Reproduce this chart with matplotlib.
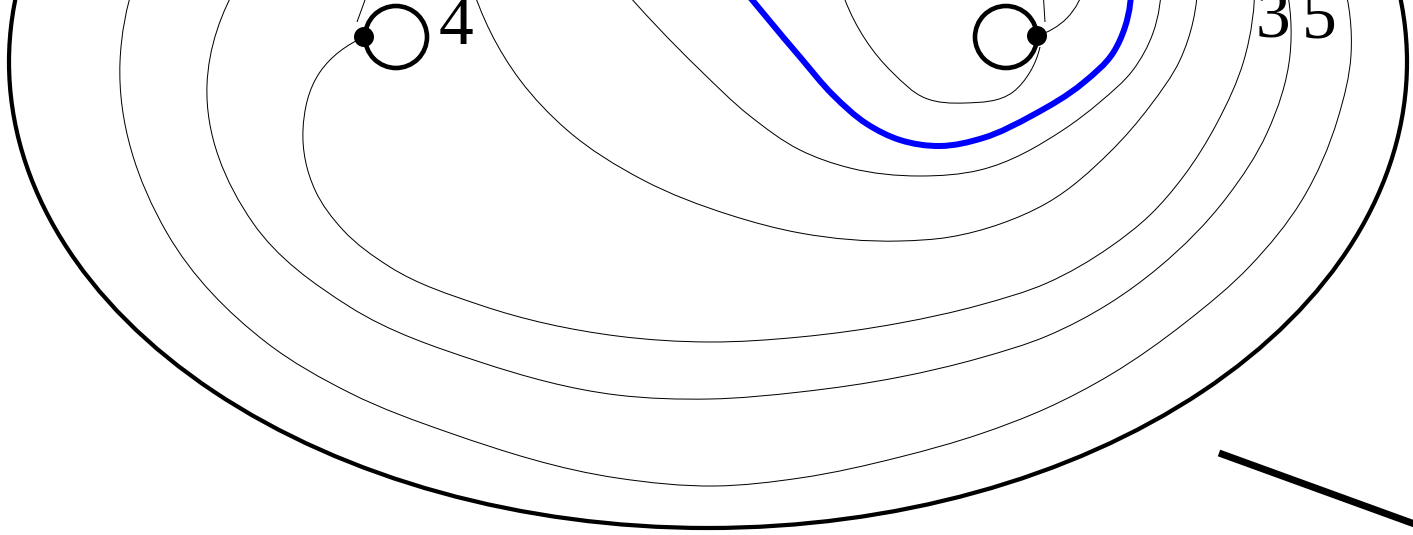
import matplotlib
matplotlib.use('Agg')
import matplotlib.pyplot as plt
import numpy as np
from matplotlib.path import Path
from matplotlib.patches import PathPatch, Circle, Ellipse

# everything, in pixels, y going down
outer_center = (708, 62)
outer_size = (1398, 932)
line_a = [(135, -20), (120, 62), (167, 233), (267, 343), (350, 393), (450, 433),
          (617, 478), (715, 486), (800, 478), (900, 457), (980, 434), (1047, 408), (1110, 375), (1186, 322),
          (1250, 266), (1302, 200), (1338, 118), (1351, 55), (1343, -20)]
line_b = [(240, -20), (207, 85), (253, 223), (350, 307), (480, 362), (617, 395),
          (710, 399), (800, 392), (900, 377), (980, 358), (1047, 336), (1110, 303), (1158, 268), (1227, 197),
          (1267, 133), (1290, 55), (1285, -20)]
line_c = [(364, 37), (320, 72), (303, 130), (315, 190), (343, 230), (390, 267), (480, 305), (617, 336),
          (710, 342), (800, 337), (900, 323), (980, 305), (1047, 283), (1110, 247), (1150, 215), (1183, 177),
          (1217, 123), (1244, 60), (1255, -20)]
line_d = [(470, -20), (520, 80), (567, 130), (643, 180), (730, 215), (800, 233), (900, 241), (950, 237),
          (1000, 224), (1047, 203), (1110, 152), (1150, 106), (1180, 60), (1198, -20)]
line_e = [(615, -20), (700, 70), (750, 116), (800, 150), (850, 168), (920, 176), (980, 170), (1063, 130),
          (1100, 102), (1133, 70), (1153, 33), (1161, -20)]
line_f = [(845, 0), (893, 73), (925, 98), (965, 103), (1013, 92), (1030, 72), (1040, 47)]
line_g = [(1037, 36), (1067, 18), (1085, -15)]
tick_left = [(365, 0), (357, 22)]
tick_right = [(1043, -10), (1045, 22)]
blue_line = [(736, -20), (800, 57), (833, 95), (867, 124), (900, 140), (940, 146), (983, 138), (1033, 115),
             (1083, 83), (1113, 53), (1125, 27), (1131, -20)]
bar = [(1219, 453), (1420, 526)]

loops = [(396, 37), (1006, 37)]
dots = [(364, 37), (1037, 36)]
labels = [('4', 439, 44), ('3', 1256, 37), ('5', 1302, 37)]


def smooth_path(pts):
    pts = np.array(pts, dtype=float)
    n = len(pts)
    seg = pts[1:] - pts[:-1]
    ln = np.linalg.norm(seg, axis=1)
    u = seg / ln[:, None]
    tang = np.zeros_like(pts)
    tang[0] = 2 * u[0] - (ln[1] * u[0] + ln[0] * u[1]) / (ln[0] + ln[1])
    tang[-1] = 2 * u[-1] - (ln[-1] * u[-2] + ln[-2] * u[-1]) / (ln[-1] + ln[-2])
    for i in range(1, n - 1):
        tang[i] = ln[i] * u[i - 1] + ln[i - 1] * u[i]
    tang = tang / np.linalg.norm(tang, axis=1, keepdims=True)
    verts = [pts[0]]
    codes = [Path.MOVETO]
    for i in range(n - 1):
        ang = np.arccos(np.clip(np.dot(tang[i], tang[i + 1]), -1, 1))
        k = 1 / 3 if ang < 1e-3 else (4 / 3) * np.tan(ang / 4) / (2 * np.sin(ang / 2))
        d = ln[i] * k
        verts += [pts[i] + tang[i] * d, pts[i + 1] - tang[i + 1] * d, pts[i + 1]]
        codes += [Path.CURVE4] * 3
    return Path(verts, codes)


def px(w):
    return w * 72 / 100


fig = plt.figure(figsize=(14.13, 5.35), dpi=100)
ax = fig.add_axes([0, 0, 1, 1])
ax.set_xlim(0, 1413)
ax.set_ylim(535, 0)
ax.axis('off')

for pts in [line_a, line_b, line_c, line_d, line_e, line_f, line_g]:
    ax.add_patch(PathPatch(smooth_path(pts), fc='none', ec='black', lw=px(1.0)))
for pts in [tick_left, tick_right]:
    ax.plot(*zip(*pts), color='black', lw=px(1.0), solid_capstyle='butt')

ax.add_patch(Ellipse(outer_center, outer_size[0], outer_size[1], fc='none', ec='black', lw=px(4.2)))
ax.add_patch(PathPatch(smooth_path(blue_line), fc='none', ec='#0000ff', lw=px(6)))
ax.plot(*zip(*bar), color='black', lw=px(7), solid_capstyle='butt')

for c in loops:
    ax.add_patch(Circle(c, 31, fc='none', ec='black', lw=px(4.6)))
for c in dots:
    ax.add_patch(Circle(c, 10, fc='black', ec='none', zorder=5))

for s, x, y in labels:
    ax.text(x, y, s, family='Liberation Serif', fontsize=50, ha='left', va='baseline', color='black')

fig.savefig('out.png', dpi=100)
